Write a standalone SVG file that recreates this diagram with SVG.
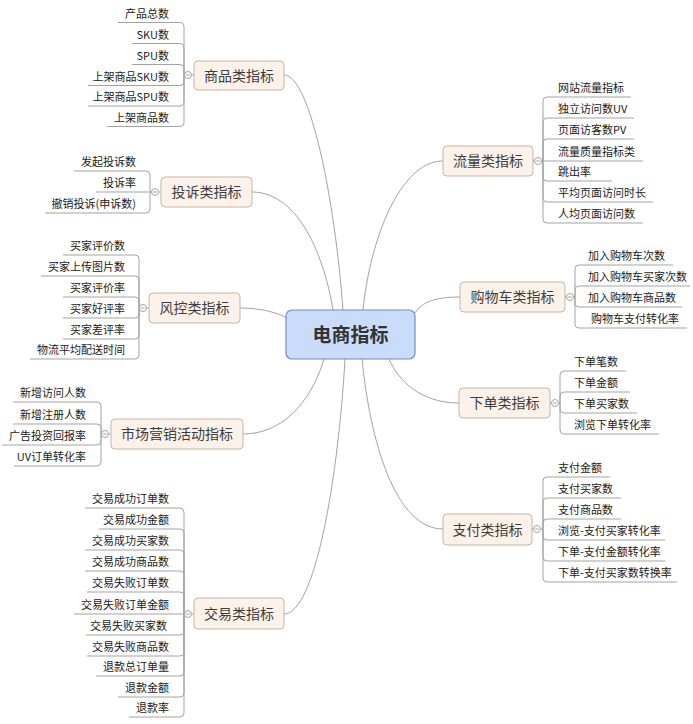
<svg xmlns="http://www.w3.org/2000/svg" width="693" height="724" viewBox="0 0 693 724">
<style>
.bg{fill:#ffffff}
.ln{fill:none;stroke:#a3a3a3;stroke-width:1}
.br{fill:#fdf2e9;stroke:#c6b5a5;stroke-width:1}
.ct{fill:#c9dcfa;stroke:#7190c4;stroke-width:1.2}
.bt{font-family:"Noto Sans CJK SC","Noto Sans",sans-serif;font-size:14px;fill:#3c3c3c;text-anchor:middle}
.cx{font-family:"Noto Sans CJK SC","Noto Sans",sans-serif;font-size:19px;font-weight:bold;fill:#333;text-anchor:middle}
.lt{font-family:"Noto Sans CJK SC","Noto Sans",sans-serif;font-size:11px;fill:#1a1a1a}
.le{text-anchor:end}
.cc{fill:#fff;stroke:#a3a3a3;stroke-width:1}
</style>
<defs>
<g id="col"><circle class="cc" cx="0" cy="0" r="3.5"/><path d="M-1.8,0H1.8" stroke="#a3a3a3" stroke-width="1"/></g>
</defs>
<rect class="bg" x="0" y="0" width="693" height="724"/>
<g id="connectors">
<path class="ln" d="M284,75 C310,75 335,200 343,310"/>
<path class="ln" d="M252,192 C300,192 325,260 333,310"/>
<path class="ln" d="M240,308 C262,308 278,313 287,318"/>
<path class="ln" d="M243,434 C290,434 315,390 324,359"/>
<path class="ln" d="M284,614 C315,614 338,480 345,359"/>
<path class="ln" d="M443,161 C400,161 370,240 363,310"/>
<path class="ln" d="M460,297 C435,297 422,302 415,313"/>
<path class="ln" d="M459,403 C420,403 398,380 389,359"/>
<path class="ln" d="M443,529 C395,529 370,440 362,359"/>
<!-- 商品 -->
<path class="ln" d="M194,75H184"/>
<path class="ln" d="M184,75V26.5Q184,22.5 180,22.5H118"/>
<path class="ln" d="M184,75V47.5Q184,43.5 180,43.5H132"/>
<path class="ln" d="M184,75V68.5Q184,64.5 180,64.5H132"/>
<path class="ln" d="M184,75V81.5Q184,85.5 180,85.5H88"/>
<path class="ln" d="M184,75V102Q184,106 180,106H88"/>
<path class="ln" d="M184,75V122.5Q184,126.5 180,126.5H107"/>
<!-- 投诉 -->
<path class="ln" d="M161,192H150"/>
<path class="ln" d="M150,192V175Q150,171 146,171H74"/>
<path class="ln" d="M150,192H96"/>
<path class="ln" d="M150,192V209Q150,213 146,213H45"/>
<!-- 风控 -->
<path class="ln" d="M149,308H139"/>
<path class="ln" d="M139,308V259Q139,255 135,255H63"/>
<path class="ln" d="M139,308V280Q139,276 135,276H41"/>
<path class="ln" d="M139,308V301Q139,297 135,297H63"/>
<path class="ln" d="M139,308V314Q139,318 135,318H63"/>
<path class="ln" d="M139,308V335Q139,339 135,339H63"/>
<path class="ln" d="M139,308V355Q139,359 135,359H30"/>
<!-- 市场 -->
<path class="ln" d="M111,434H101"/>
<path class="ln" d="M101,434V406Q101,402 97,402H13"/>
<path class="ln" d="M101,434V428Q101,424 97,424H13"/>
<path class="ln" d="M101,434V441Q101,445 97,445H2"/>
<path class="ln" d="M101,434V462Q101,466 97,466H14"/>
<!-- 交易 -->
<path class="ln" d="M194,614H184"/>
<path class="ln" d="M184,614V512Q184,508 180,508H85"/>
<path class="ln" d="M184,614V533Q184,529 180,529H99"/>
<path class="ln" d="M184,614V554Q184,550 180,550H85"/>
<path class="ln" d="M184,614V575Q184,571 180,571H85"/>
<path class="ln" d="M184,614V596Q184,592 180,592H87"/>
<path class="ln" d="M184,614H74"/>
<path class="ln" d="M184,614V631Q184,635 180,635H86"/>
<path class="ln" d="M184,614V652Q184,656 180,656H87"/>
<path class="ln" d="M184,614V672Q184,676 180,676H96"/>
<path class="ln" d="M184,614V693Q184,697 180,697H118"/>
<path class="ln" d="M184,614V713Q184,717 180,717H129"/>
<!-- 流量 -->
<path class="ln" d="M533,161H543"/>
<path class="ln" d="M543,161V101Q543,97 547,97H631"/>
<path class="ln" d="M543,161V122Q543,118 547,118H634"/>
<path class="ln" d="M543,161V143Q543,139 547,139H634"/>
<path class="ln" d="M543,161H643"/>
<path class="ln" d="M543,161V177Q543,181 547,181H612"/>
<path class="ln" d="M543,161V198Q543,202 547,202H653"/>
<path class="ln" d="M543,161V219Q543,223 547,223H643"/>
<!-- 购物车 -->
<path class="ln" d="M565,297H575"/>
<path class="ln" d="M575,297V269Q575,265 579,265H673"/>
<path class="ln" d="M575,297V290Q575,286 579,286H690"/>
<path class="ln" d="M575,297V303Q575,307 579,307H682"/>
<path class="ln" d="M575,297V324Q575,328 579,328H687"/>
<!-- 下单 -->
<path class="ln" d="M550,403H560"/>
<path class="ln" d="M560,403V375Q560,371 564,371H626"/>
<path class="ln" d="M560,403V396Q560,392 564,392H630"/>
<path class="ln" d="M560,403V409Q560,413 564,413H637"/>
<path class="ln" d="M560,403V430Q560,434 564,434H659"/>
<!-- 支付 -->
<path class="ln" d="M532,529H543"/>
<path class="ln" d="M543,529V481Q543,477 547,477H610"/>
<path class="ln" d="M543,529V502Q543,498 547,498H621"/>
<path class="ln" d="M543,529V523Q543,519 547,519H621"/>
<path class="ln" d="M543,529V536Q543,540 547,540H665"/>
<path class="ln" d="M543,529V557Q543,561 547,561H665"/>
<path class="ln" d="M543,529V578Q543,582 547,582H677"/>
</g>
<g id="center"><rect class="ct" x="286" y="310" width="129" height="49" rx="6"/><text class="cx" x="350.5" y="342">电商指标</text></g>
<g id="n-shangpin"><rect class="br" x="194" y="61" width="90" height="29" rx="4"/><text class="bt" x="239" y="80.5">商品类指标</text><use href="#col" x="188" y="75"/>
<text class="lt le" x="169" y="17.5">产品总数</text><text class="lt le" x="169" y="38.5">SKU数</text><text class="lt le" x="169" y="59.5">SPU数</text><text class="lt le" x="169" y="80.5">上架商品SKU数</text><text class="lt le" x="169" y="101">上架商品SPU数</text><text class="lt le" x="169" y="121.5">上架商品数</text></g>
<g id="n-tousu"><rect class="br" x="161" y="177" width="91" height="30" rx="4"/><text class="bt" x="206.5" y="197">投诉类指标</text><use href="#col" x="155" y="192"/>
<text class="lt le" x="136" y="166">发起投诉数</text><text class="lt le" x="136" y="187">投诉率</text><text class="lt le" x="136" y="208">撤销投诉(申诉数)</text></g>
<g id="n-fengkong"><rect class="br" x="149" y="293" width="91" height="30" rx="4"/><text class="bt" x="194.5" y="313">风控类指标</text><use href="#col" x="143" y="308"/>
<text class="lt le" x="125" y="250">买家评价数</text><text class="lt le" x="125" y="271">买家上传图片数</text><text class="lt le" x="125" y="292">买家评价率</text><text class="lt le" x="125" y="313">买家好评率</text><text class="lt le" x="125" y="334">买家差评率</text><text class="lt le" x="125" y="354">物流平均配送时间</text></g>
<g id="n-shichang"><rect class="br" x="111" y="419" width="132" height="30" rx="4"/><text class="bt" x="177" y="439">市场营销活动指标</text><use href="#col" x="105" y="434"/>
<text class="lt le" x="86" y="397">新增访问人数</text><text class="lt le" x="86" y="419">新增注册人数</text><text class="lt le" x="86" y="440">广告投资回报率</text><text class="lt le" x="86" y="461">UV订单转化率</text></g>
<g id="n-jiaoyi"><rect class="br" x="194" y="598" width="90" height="31" rx="4"/><text class="bt" x="239" y="619">交易类指标</text><use href="#col" x="188" y="614"/>
<text class="lt le" x="169" y="503">交易成功订单数</text><text class="lt le" x="169" y="524">交易成功金额</text><text class="lt le" x="169" y="545">交易成功买家数</text><text class="lt le" x="169" y="566">交易成功商品数</text><text class="lt le" x="169" y="587">交易失败订单数</text><text class="lt le" x="169" y="609">交易失败订单金额</text><text class="lt le" x="167" y="630">交易失败买家数</text><text class="lt le" x="169" y="651">交易失败商品数</text><text class="lt le" x="169" y="671">退款总订单量</text><text class="lt le" x="169" y="692">退款金额</text><text class="lt le" x="169" y="712">退款率</text></g>
<g id="n-liuliang"><rect class="br" x="443" y="146" width="90" height="30" rx="4"/><text class="bt" x="488" y="166">流量类指标</text><use href="#col" x="538" y="161"/>
<text class="lt" x="558" y="92">网站流量指标</text><text class="lt" x="558" y="113">独立访问数UV</text><text class="lt" x="558" y="134">页面访客数PV</text><text class="lt" x="558" y="156">流量质量指标类</text><text class="lt" x="558" y="176">跳出率</text><text class="lt" x="558" y="197">平均页面访问时长</text><text class="lt" x="558" y="218">人均页面访问数</text></g>
<g id="n-gouwuche"><rect class="br" x="460" y="282" width="105" height="30" rx="4"/><text class="bt" x="512.5" y="302">购物车类指标</text><use href="#col" x="570" y="297"/>
<text class="lt" x="588" y="260">加入购物车次数</text><text class="lt" x="588" y="281">加入购物车买家次数</text><text class="lt" x="588" y="302">加入购物车商品数</text><text class="lt" x="591" y="323">购物车支付转化率</text></g>
<g id="n-xiadan"><rect class="br" x="459" y="388" width="91" height="30" rx="4"/><text class="bt" x="504.5" y="408">下单类指标</text><use href="#col" x="555" y="403"/>
<text class="lt" x="574" y="366">下单笔数</text><text class="lt" x="574" y="387">下单金额</text><text class="lt" x="574" y="408">下单买家数</text><text class="lt" x="574" y="429">浏览下单转化率</text></g>
<g id="n-zhifu"><rect class="br" x="443" y="514" width="89" height="31" rx="4"/><text class="bt" x="487.5" y="535">支付类指标</text><use href="#col" x="537" y="529"/>
<text class="lt" x="558" y="472">支付金额</text><text class="lt" x="558" y="493">支付买家数</text><text class="lt" x="558" y="514">支付商品数</text><text class="lt" x="558" y="535">浏览-支付买家转化率</text><text class="lt" x="558" y="556">下单-支付金额转化率</text><text class="lt" x="558" y="577">下单-支付买家数转换率</text></g>
</svg>
